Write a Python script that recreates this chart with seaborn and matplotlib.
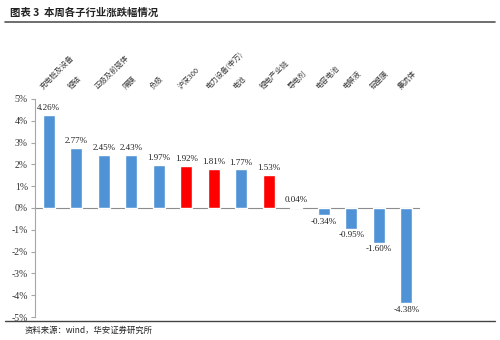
import matplotlib
matplotlib.use("Agg")
import matplotlib.pyplot as plt
import seaborn as sns
import pandas as pd
from matplotlib.lines import Line2D

categories = ["充电桩及设备", "锂钴", "正极及前驱体", "隔膜", "负极", "沪深300",
              "电力设备(申万)", "电池", "锂电产业链", "导电剂", "电容电池", "电解液",
              "铝塑膜", "集流体"]
values = [4.26, 2.77, 2.45, 2.43, 1.97, 1.92, 1.81, 1.77, 1.53, 0.04, -0.34, -0.95, -1.60, -4.38]
highlight = ["沪深300", "电力设备(申万)", "锂电产业链"]
y_ticks = [5, 4, 3, 2, 1, 0, -1, -2, -3, -4, -5]

BLUE = "#4F93D6"
RED = "#FF0000"

sns.set_theme(style="white")
plt.rcParams["font.family"] = ["Noto Sans CJK SC", "DejaVu Sans"]

df = pd.DataFrame({"cat": categories, "val": values})
palette = [RED if c in highlight else BLUE for c in categories]

fig = plt.figure(figsize=(5, 3.4), dpi=100)
ax = fig.add_axes([0.07, 0.0676, 0.77, 0.6414])

sns.barplot(data=df, x="cat", y="val", hue="cat", palette=palette, legend=False,
            width=0.45, ax=ax, saturation=1)

ax.set_ylim(-5, 5)
ax.set_xlim(-0.5, len(categories) - 0.5)
ax.set_yticks(y_ticks)
ax.set_yticklabels([f"{t}%" for t in y_ticks], family="Liberation Serif", fontsize=7, color="#333333")
ax.set_xticks([])
ax.set_xlabel("")
ax.set_ylabel("")
for s in ["top", "right", "bottom"]:
    ax.spines[s].set_visible(False)
ax.spines["left"].set_color("#A6A6A6")
ax.spines["left"].set_linewidth(0.8)
ax.tick_params(axis="y", length=3, width=0.8, color="#A6A6A6", pad=2, left=True)
ax.axhline(0, color="#8C8C8C", lw=0.8, zorder=0)

for i, v in enumerate(values):
    if v >= 0:
        ax.text(i, v + 0.12, f"{v:.2f}%", ha="center", va="bottom", fontsize=6.5,
                family="Liberation Serif", color="#222222")
    else:
        ax.text(i, v - 0.12, f"{v:.2f}%", ha="center", va="top", fontsize=6.5,
                family="Liberation Serif", color="#222222")

for i, c in enumerate(categories):
    ax.text(i - 0.15, 5.4, c, rotation=45, rotation_mode="anchor", ha="left", va="bottom",
            fontsize=5.3, fontweight="medium", color="#3A3A3A", clip_on=False)

fig.text(0.02, 0.963, "图表 3  本周各子行业涨跌幅情况", fontsize=7.5, fontweight="bold",
         color="#222222", ha="left", va="center")
fig.add_artist(Line2D([0.01, 0.99], [0.935, 0.935], color="#555555", lw=1.2))
fig.add_artist(Line2D([0.01, 0.99], [0.055, 0.055], color="#444444", lw=1.0))
fig.text(0.05, 0.027, "资料来源：wind，华安证券研究所", fontsize=6, color="#222222",
         ha="left", va="center")

fig.savefig("out.png", dpi=100)
